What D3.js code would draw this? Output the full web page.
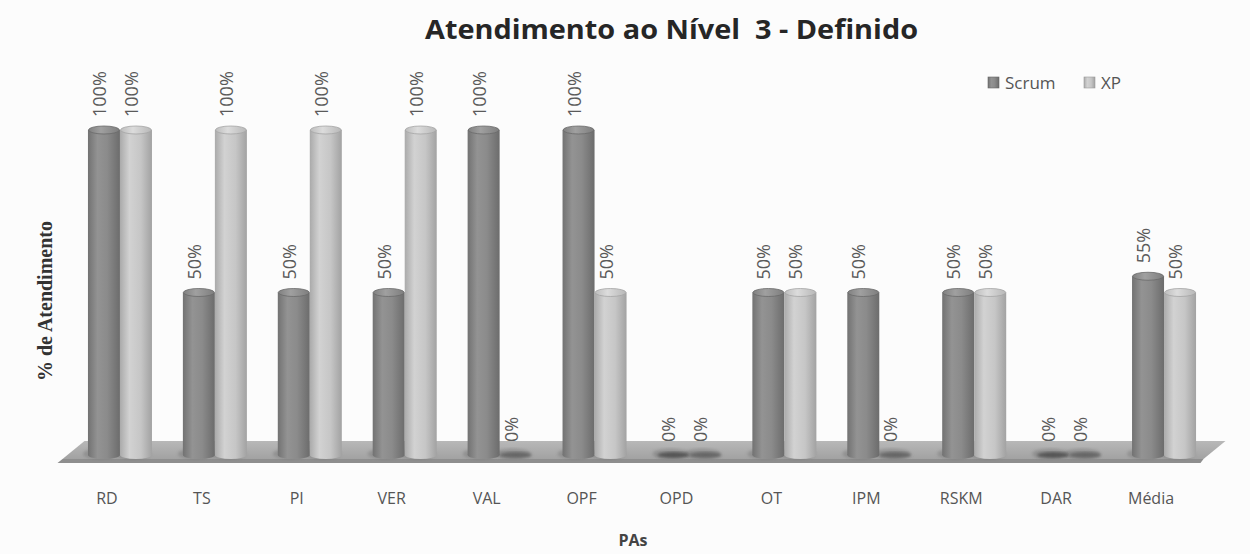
<!DOCTYPE html>
<html><head><meta charset="utf-8">
<script src="https://cdn.jsdelivr.net/npm/d3@7"></script>
<style>body{margin:0;background:#fcfcfc} svg{display:block}</style>
</head><body><svg id="c" width="1250" height="554"></svg>
<script>
const categories = ["RD","TS","PI","VER","VAL","OPF","OPD","OT","IPM","RSKM","DAR","Média"];
const seriesNames = ["Scrum","XP"];
const scrumValues = [1.00,0.50,0.50,0.50,1.00,1.00,0.00,0.50,0.50,0.50,0.00,0.55];
const xpValues    = [1.00,1.00,1.00,1.00,0.00,0.50,0.00,0.50,0.00,0.50,0.00,0.50];
const titleText = "Atendimento ao Nível  3 - Definido";
const yAxisTitle = "% de Atendimento";
const xAxisTitle = "PAs";

const svg = d3.select("#c");
const W = 1250, H = 554;
svg.append("rect").attr("width", W).attr("height", H).attr("fill", "#fcfcfc");

const x = d3.scaleBand().domain(categories).range([72.5, 1211.5]).padding(0);
const xs = d3.scaleBand().domain(seriesNames).range([-32, 32]).padding(0);
const y = d3.scaleLinear().domain([0, 1]).range([455, 130]);
const fmt = d3.format(".0%");

const defs = svg.append("defs");
function hgrad(id, stops) {
  const g = defs.append("linearGradient").attr("id", id).attr("x1", "0").attr("x2", "1").attr("y1", "0").attr("y2", "0");
  stops.forEach(s => g.append("stop").attr("offset", s[0]).attr("stop-color", s[1]));
}
hgrad("gScrum", [[0, "#727272"], [0.3, "#939393"], [0.6, "#8b8b8b"], [1, "#6c6c6c"]]);
hgrad("gXP", [[0, "#aaaaaa"], [0.3, "#d2d2d2"], [0.65, "#c6c6c6"], [1, "#a2a2a2"]]);
hgrad("gScrumCap", [[0, "#808080"], [0.4, "#a0a0a0"], [1, "#7e7e7e"]]);
hgrad("gXPCap", [[0, "#bdbdbd"], [0.4, "#dcdcdc"], [1, "#b8b8b8"]]);
const fg = defs.append("linearGradient").attr("id", "gFloor").attr("x1", 0).attr("x2", 0).attr("y1", 0).attr("y2", 1);
fg.append("stop").attr("offset", 0).attr("stop-color", "#b8b8b8");
fg.append("stop").attr("offset", 1).attr("stop-color", "#a2a2a2");
defs.append("filter").attr("id", "blur").append("feGaussianBlur").attr("stdDeviation", 1.5);

// Title
svg.append("text").attr("x", 671.5).attr("y", 39).attr("text-anchor", "middle")
  .style("white-space", "pre")
  .attr("font-family", "'Open Sans', sans-serif").attr("font-weight", "bold").attr("font-size", 26)
  .attr("textLength", 493).attr("lengthAdjust", "spacingAndGlyphs")
  .attr("fill", "#262626").text(titleText);

// Floor
const [r0, r1] = x.range();
const floorTop = 441, floorFront = 459, floorBottom = 463;
svg.append("polygon")
  .attr("points", [[r0 + 12, floorTop], [r1 + 14, floorTop], [r1 - 8, floorFront], [r0 - 10, floorFront]].join(" "))
  .attr("fill", "url(#gFloor)");
svg.append("polygon")
  .attr("points", [[r0 - 10, floorFront], [r1 - 8, floorFront], [r1 - 11, floorBottom], [r0 - 15, floorBottom]].join(" "))
  .attr("fill", "#8e8e8e");

// Bars
const data = [];
categories.forEach((c, i) => {
  data.push({cat: c, s: "Scrum", v: scrumValues[i]});
  data.push({cat: c, s: "XP", v: xpValues[i]});
});
const rx = xs.bandwidth() / 2, ry = 4;
const gBars = svg.append("g");
gBars.selectAll("ellipse.sh").data(data).join("ellipse")
  .attr("cx", d => x(d.cat) + x.bandwidth() / 2 + xs(d.s) + rx - 3)
  .attr("cy", y(0) - 1)
  .attr("rx", rx + 2).attr("ry", ry + 1.5)
  .attr("fill", "#7a7a7a").attr("opacity", 0.5).attr("filter", "url(#blur)");

data.forEach(d => {
  const cx = x(d.cat) + x.bandwidth() / 2 + xs(d.s) + rx;
  const g = gBars.append("g");
  if (d.v <= 0) {
    g.append("ellipse").attr("cx", cx).attr("cy", y(0)).attr("rx", rx).attr("ry", 3)
      .attr("fill", d.s === "Scrum" ? "#555" : "#666").attr("filter", "url(#blur)");
    return;
  }
  const body = d.s === "Scrum" ? "url(#gScrum)" : "url(#gXP)";
  const cap = d.s === "Scrum" ? "url(#gScrumCap)" : "url(#gXPCap)";
  g.append("ellipse").attr("cx", cx).attr("cy", y(0)).attr("rx", rx).attr("ry", ry).attr("fill", body);
  g.append("rect").attr("x", cx - rx).attr("y", y(d.v)).attr("width", 2 * rx).attr("height", y(0) - y(d.v)).attr("fill", body);
  g.append("ellipse").attr("cx", cx).attr("cy", y(d.v)).attr("rx", rx - 0.5).attr("ry", ry)
    .attr("fill", cap).attr("stroke", d.s === "Scrum" ? "#6a6a6a" : "#a4a4a4").attr("stroke-width", 0.8);
});

// Value labels
svg.append("g").selectAll("text").data(data).join("text")
  .attr("transform", d => {
    const cx = x(d.cat) + x.bandwidth() / 2 + xs(d.s) + rx;
    return `translate(${cx + 2},${y(d.v) - 13}) rotate(-90)`;
  })
  .attr("font-family", "'Open Sans', sans-serif").attr("font-size", 18).attr("fill", "#5a5a5a")
  .text(d => fmt(d.v));

// X axis labels
const xAxis = d3.axisBottom(x).tickSize(0).tickPadding(0);
const gx = svg.append("g").attr("transform", "translate(-13,492.6)").call(xAxis);
gx.select(".domain").remove();
gx.selectAll("text").attr("font-family", "'Open Sans', sans-serif").attr("font-size", 16).attr("fill", "#555");

// Axis titles
svg.append("text").attr("x", 633).attr("y", 546).attr("text-anchor", "middle")
  .attr("font-family", "'Open Sans', sans-serif").attr("font-weight", "bold").attr("font-size", 16)
  .attr("fill", "#444").text(xAxisTitle);
svg.append("text").attr("transform", "translate(52,301) rotate(-90)").attr("text-anchor", "middle")
  .attr("font-family", "'Liberation Serif', serif").attr("font-weight", "bold").attr("font-size", 20)
  .attr("fill", "#333").text(yAxisTitle);

// Legend
const legendX = [988, 1084];
const leg = svg.append("g");
seriesNames.forEach((s, i) => {
  leg.append("rect").attr("x", legendX[i]).attr("y", 77).attr("width", 11).attr("height", 11)
    .attr("fill", s === "Scrum" ? "url(#gScrum)" : "url(#gXP)").attr("stroke", s === "Scrum" ? "#666" : "#999").attr("stroke-width", 0.6);
  leg.append("text").attr("x", legendX[i] + 17).attr("y", 89)
    .attr("font-family", "'Open Sans', sans-serif").attr("font-size", 17).attr("fill", "#555").text(s);
});
</script>
</body></html>
